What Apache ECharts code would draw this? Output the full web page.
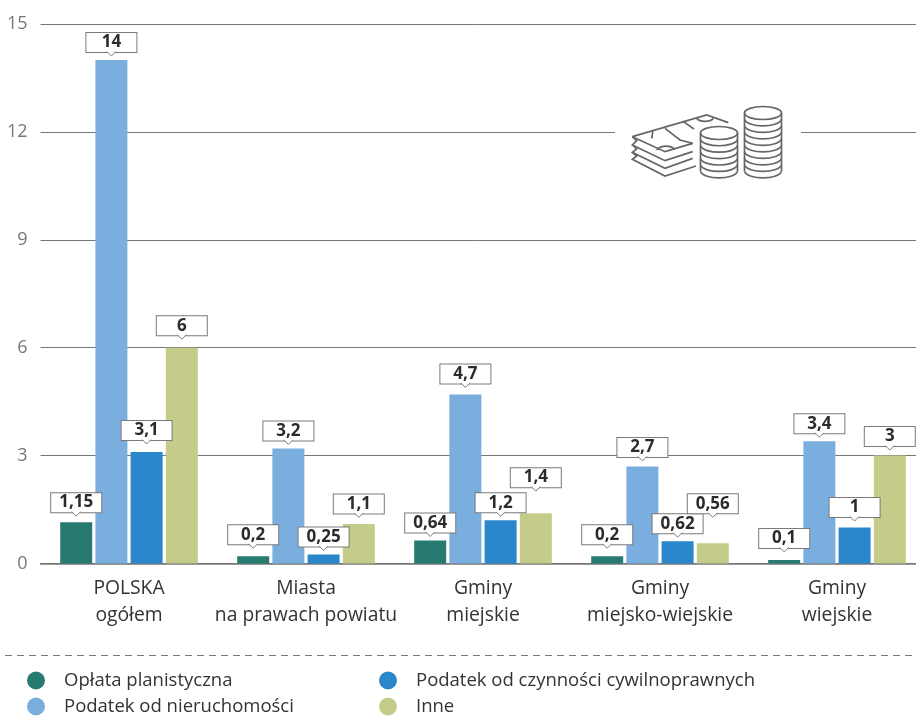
<!DOCTYPE html>
<html><head><meta charset="utf-8">
<style>html,body{margin:0;padding:0;background:#fff}#c{width:916px;height:716px}</style>
<script src="https://cdn.jsdelivr.net/npm/echarts@6/dist/echarts.min.js"></script>
</head><body><div id="c"></div>
<script>
const categories = ['POLSKA\nogółem','Miasta\nna prawach powiatu','Gminy\nmiejskie','Gminy\nmiejsko-wiejskie','Gminy\nwiejskie'];
const oplata = [1.15,0.2,0.64,0.2,0.1];
const nieruchomosci = [14,3.2,4.7,2.7,3.4];
const czynnosci = [3.1,0.25,1.2,0.62,1];
const inne = [6,1.1,1.4,0.56,3];
const names = ['Opłata planistyczna','Podatek od nieruchomości','Podatek od czynności cywilnoprawnych','Inne'];
const colors = ['#277A70','#7AAEDF','#2A87CB','#C5CC8A'];
const allValues = [oplata,nieruchomosci,czynnosci,inne];
const FONT = '"Open Sans", sans-serif';
const BAR_W = 32, BAR_GAP = 3.2, EDGE = '#7a7a7a';
// callout clearance above each bar, per series and category (layout only)
const calloutGaps = [[10,12,8,12,12],[8,8,11,9.5,8],[12,8,8,8,10.5],[12.5,10.5,26,30,9.5]];

const barSeries = allValues.map((vals,i)=>({
  name:names[i], type:'bar', barWidth:BAR_W, barGap:'10%', z:2,
  data:vals.map((v,c)=>({value:v,label:{distance:calloutGaps[i][c]}})),
  itemStyle:{color:colors[i]},
  label:{show:true, position:'top',
    formatter:p=>String(p.value).replace('.',','),
    width:50, height:19, lineHeight:19, align:'center',
    backgroundColor:'#fff', borderColor:EDGE, borderWidth:1,
    color:'#2b2b2b', fontFamily:FONT, fontWeight:'bold', fontSize:17}
}));

const pointerData = [];
allValues.forEach((vals,s)=>vals.forEach((v,c)=>pointerData.push([c,v,s])));
const pointerSeries = {
  type:'custom', z:6, silent:true, data:pointerData, encode:{x:0,y:1},
  renderItem(params,api){
    const c = api.value(0), s = api.value(2);
    const p = api.coord([c,api.value(1)]);
    const x = p[0]+(s-1.5)*(BAR_W+BAR_GAP), y = p[1]-calloutGaps[s][c];
    return {type:'polyline',shape:{points:[[x-4.5,y-0.5],[x,y+4],[x+4.5,y-0.5]]},
      style:{fill:'#fff',stroke:EDGE,lineWidth:1}};
  }
};

// decorative money icon
const IC='#666', IW=1.7;
const ix=z=>600+z/3, iy=z=>90+z/3;
const icon=[{type:'rect',shape:{x:615,y:120,width:186,height:24},style:{fill:'#fff'},z:1}];
function poly(pts){icon.push({type:'polyline',z:1,shape:{points:pts.map(p=>[ix(p[0]),iy(p[1])])},style:{fill:'none',stroke:IC,lineWidth:IW}});}
poly([[97,140],[320,75],[385,98]]);
poly([[97,140],[195,185],[278,160]]);
poly([[97,140],[110,152],[97,165],[195,212],[278,185]]);
poly([[97,165],[110,177],[97,187],[195,235],[278,205]]);
poly([[97,187],[110,198],[97,208],[195,258],[288,228]]);
poly([[195,115],[240,150],[278,160]]);
poly([[250,95],[282,117]]);
function arc(x1,y1,x2,y2,cx1,cy1,cx2,cy2){icon.push({type:'bezierCurve',z:1,shape:{x1:ix(x1),y1:iy(y1),x2:ix(x2),y2:iy(y2),cpx1:ix(cx1),cpy1:iy(cy1),cpx2:ix(cx2),cpy2:iy(cy2)},style:{fill:'none',stroke:IC,lineWidth:IW}});}
arc(158,122,158,140,160,135,150,150);
arc(170,180,225,178,185,165,210,165);
arc(290,85,340,85,300,97,330,97);
function stack(cx,topY,bottomY,n){
  const hw=18.5, ry=6.5, step=(bottomY-ry-topY)/n;
  icon.push({type:'rect',z:1,shape:{x:cx-hw,y:topY,width:2*hw,height:bottomY-ry-topY},style:{fill:'#fff'}});
  for(let i=1;i<=n;i++){
    const y=topY+i*step;
    icon.push({type:'bezierCurve',z:2,shape:{x1:cx-hw,y1:y,x2:cx+hw,y2:y,cpx1:cx-hw+3,cpy1:y+ry*1.3,cpx2:cx+hw-3,cpy2:y+ry*1.3},style:{fill:'none',stroke:IC,lineWidth:IW}});
  }
  icon.push({type:'ellipse',z:2,shape:{cx:cx,cy:topY,rx:hw,ry:ry},style:{fill:'#fff',stroke:IC,lineWidth:IW}});
  icon.push({type:'line',z:2,shape:{x1:cx-hw,y1:topY,x2:cx-hw,y2:bottomY-ry},style:{stroke:IC,lineWidth:IW}});
  icon.push({type:'line',z:2,shape:{x1:cx+hw,y1:topY,x2:cx+hw,y2:bottomY-ry},style:{stroke:IC,lineWidth:IW}});
}
stack(719,133,178,6);
stack(763,113,178,9);
icon.push({type:'line',z:1,shape:{x1:5,y1:655.5,x2:916,y2:655.5},style:{stroke:'#777',lineWidth:1,lineDash:[7,5]}});

const legendBase={orient:'vertical',icon:'circle',itemWidth:18,itemHeight:18,itemGap:7,selectedMode:false,padding:0,height:80,
  textStyle:{color:'#333',fontFamily:FONT,fontSize:18.5,padding:[0,0,0,14]}};

const chart=echarts.init(document.getElementById('c'),null,{renderer:'canvas'});
chart.setOption({
  animation:false,
  color:colors,
  grid:{left:40.5,width:885,top:24,height:539.5,containLabel:false,outerBoundsMode:'none'},
  legend:[
    Object.assign({},legendBase,{left:27,top:671,data:[names[0],names[1]]}),
    Object.assign({},legendBase,{left:379,top:671,data:[names[2],names[3]]})
  ],
  xAxis:{type:'category',data:categories,axisTick:{show:false},
    axisLine:{lineStyle:{color:'#777',width:1.5}},
    axisLabel:{color:'#333',fontFamily:FONT,fontSize:19.3,lineHeight:27,margin:12,interval:0}},
  yAxis:{type:'value',min:0,max:15,interval:3,
    axisLine:{show:false},axisTick:{show:false},
    axisLabel:{color:'#777',fontFamily:FONT,fontSize:18,margin:13},
    splitLine:{lineStyle:{color:'#777',width:1}}},
  graphic:{elements:icon},
  series:[...barSeries,pointerSeries]
});
</script></body></html>
